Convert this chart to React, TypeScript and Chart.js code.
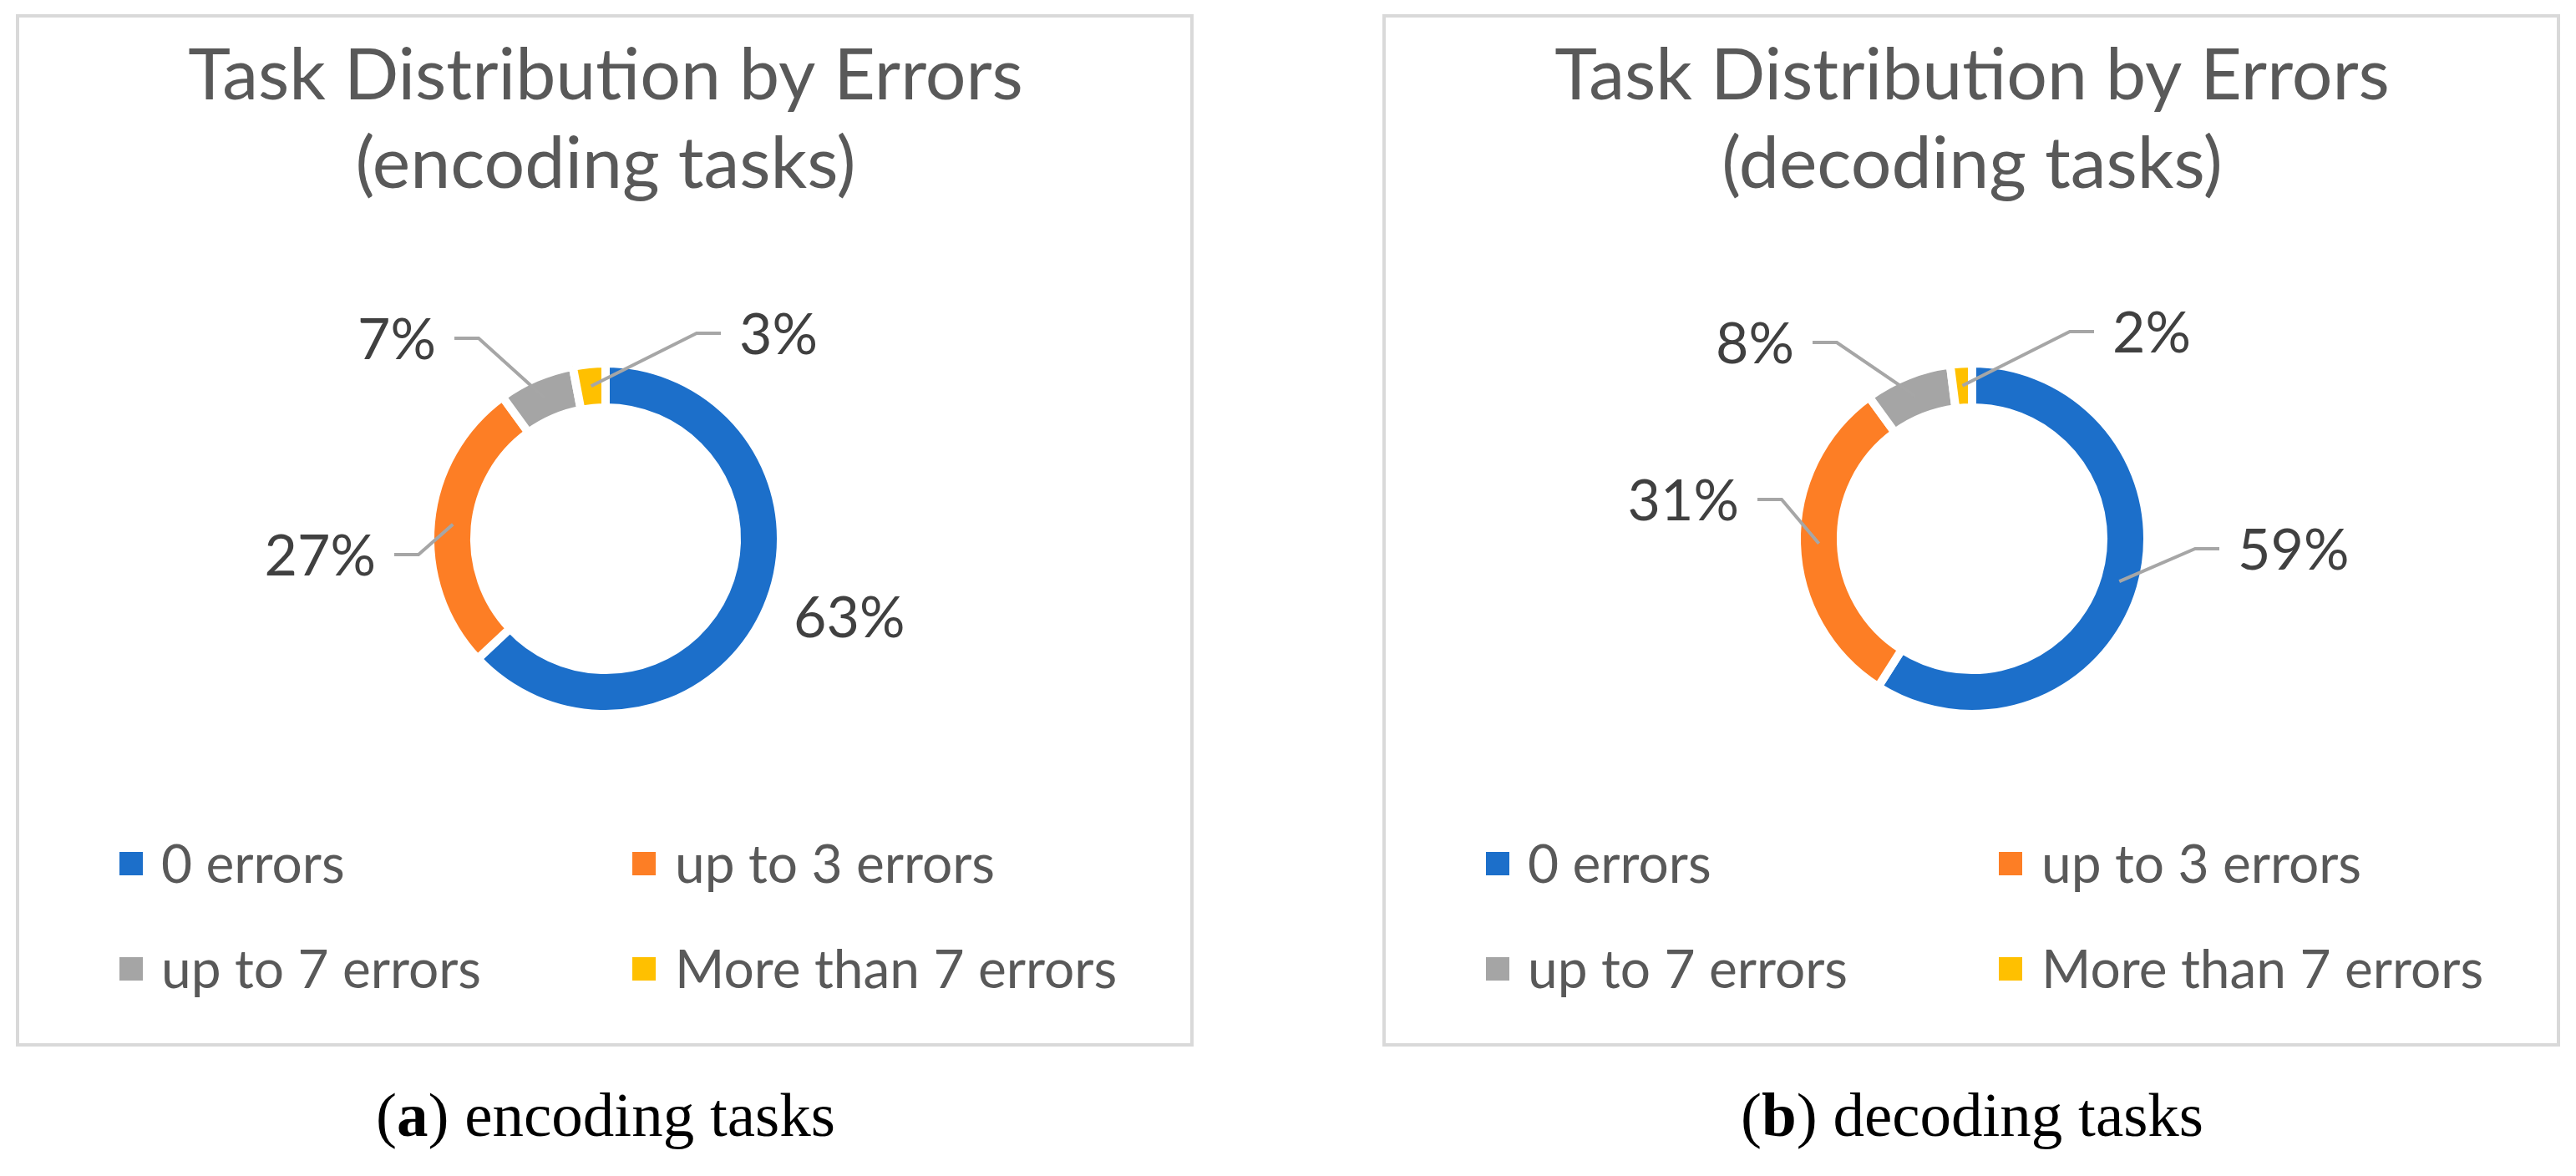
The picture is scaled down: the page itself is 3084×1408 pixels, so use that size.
import React, { useEffect, useRef } from 'react';
import { Chart, registerables } from 'chart.js';

Chart.register(...registerables);

// ---------- data ----------
const categories = ['0 errors', 'up to 3 errors', 'up to 7 errors', 'More than 7 errors'];
const encodingValues = [63, 27, 7, 3];
const decodingValues = [59, 31, 8, 2];
const encodingTitle = ['Task Distribution by Errors', '(encoding tasks)'];
const decodingTitle = ['Task Distribution by Errors', '(decoding tasks)'];
const captionLetters = ['a', 'b'];
const captionTexts = [' encoding tasks', ' decoding tasks'];

// ---------- style / layout ----------
const sliceColors = ['#1c6fca', '#fd7e25', '#a5a5a5', '#ffc000'];
const TITLE_COLOR = '#595959';
const LABEL_COLOR = '#404040';
const LEGEND_COLOR = '#595959';
const LEADER_COLOR = '#a6a6a6';
const UI_FONT = 'Lato, "Open Sans", "Noto Sans", sans-serif';

const CANVAS_W = 1402;
const CANVAS_H = 1228;
const CENTER_X = 702;
const CENTER_Y = 624;
const RADIUS = 210;

// label layout: text edge offset (dx) and text centre offset (dy) from the donut centre
type LabelPos = { side: 'left' | 'right'; dx: number; dy: number; leader: boolean };
const encodingLabelLayout: LabelPos[] = [
  { side: 'right', dx: 225, dy: 93, leader: false },
  { side: 'left', dx: -275, dy: 19, leader: true },
  { side: 'left', dx: -203, dy: -240, leader: true },
  { side: 'right', dx: 160, dy: -246, leader: true },
];
const decodingLabelLayout: LabelPos[] = [
  { side: 'right', dx: 318, dy: 12, leader: true },
  { side: 'left', dx: -279, dy: -47, leader: true },
  { side: 'left', dx: -213, dy: -235, leader: true },
  { side: 'right', dx: 168, dy: -248, leader: true },
];

const TITLE_BASELINES = [98, 204];
const LEGEND_SQUARE_X = [120, 734];
const LEGEND_TEXT_X = [170, 785];
const LEGEND_ROW_Y = [1013, 1139];

function makeDecor(title: string[], layout: LabelPos[]) {
  return {
    id: 'excelDecor',
    afterDatasetsDraw(chart: any) {
      const ctx: CanvasRenderingContext2D = chart.ctx;
      ctx.save();
      const meta = chart.getDatasetMeta(0);
      const first = meta.data[0];
      const cx = first.x;

      // title
      ctx.fillStyle = TITLE_COLOR;
      ctx.font = `400 86px ${UI_FONT}`;
      ctx.textAlign = 'center';
      ctx.textBaseline = 'alphabetic';
      title.forEach((line, i) => ctx.fillText(line, cx, TITLE_BASELINES[i]));

      // legend
      const labels: string[] = chart.data.labels;
      const colors: string[] = chart.data.datasets[0].backgroundColor;
      ctx.font = `400 64px ${UI_FONT}`;
      ctx.textAlign = 'left';
      ctx.textBaseline = 'middle';
      labels.forEach((lab, i) => {
        const col = i % 2;
        const row = Math.floor(i / 2);
        const y = LEGEND_ROW_Y[row];
        ctx.fillStyle = colors[i];
        ctx.fillRect(LEGEND_SQUARE_X[col], y - 14, 28, 28);
        ctx.fillStyle = LEGEND_COLOR;
        ctx.fillText(lab, LEGEND_TEXT_X[col], y + 2);
      });

      // data labels with leader lines
      const values: number[] = chart.data.datasets[0].data;
      ctx.font = `400 68px ${UI_FONT}`;
      meta.data.forEach((arc: any, i: number) => {
        const p = arc.getProps(['x', 'y', 'startAngle', 'endAngle', 'innerRadius', 'outerRadius'], true);
        const L = layout[i];
        const tx = p.x + L.dx;
        const ty = p.y + L.dy;
        ctx.fillStyle = LABEL_COLOR;
        ctx.textAlign = L.side === 'right' ? 'left' : 'right';
        ctx.textBaseline = 'middle';
        ctx.fillText(`${values[i]}%`, tx, ty + 3);
        if (L.leader) {
          const mid = (p.startAngle + p.endAngle) / 2;
          const r = (p.innerRadius + p.outerRadius) / 2;
          const ex = p.x + Math.cos(mid) * r;
          const ey = p.y + Math.sin(mid) * r;
          const dir = L.side === 'right' ? -1 : 1;
          const s0 = tx + dir * 22;
          const s1 = tx + dir * 51;
          ctx.strokeStyle = LEADER_COLOR;
          ctx.lineWidth = 4;
          ctx.lineJoin = 'miter';
          ctx.beginPath();
          ctx.moveTo(s0, ty);
          ctx.lineTo(s1, ty);
          ctx.lineTo(ex, ey);
          ctx.stroke();
        }
      });
      ctx.restore();
    },
  };
}

function DonutPanel(props: { values: number[]; title: string[]; layout: LabelPos[]; left: number; letter: string; caption: string }) {
  const ref = useRef<HTMLCanvasElement>(null);
  useEffect(() => {
    const padL = CENTER_X - 242;
    const padR = CANVAS_W - CENTER_X - 242;
    const padT = CENTER_Y - 234;
    const padB = CANVAS_H - CENTER_Y - 234;
    const chart = new Chart(ref.current as HTMLCanvasElement, {
      type: 'doughnut',
      data: {
        labels: categories,
        datasets: [
          {
            data: props.values,
            backgroundColor: sliceColors,
            borderColor: '#ffffff',
            borderWidth: 10,
            hoverOffset: 0,
          },
        ],
      },
      options: {
        responsive: false,
        animation: false,
        radius: RADIUS,
        cutout: '74.8%',
        layout: { padding: { left: padL, right: padR, top: padT, bottom: padB } },
        plugins: {
          legend: { display: false },
          tooltip: { enabled: false },
          title: { display: false },
        },
        events: [],
      } as any,
      plugins: [makeDecor(props.title, props.layout)],
    });
    return () => chart.destroy();
  }, []);

  return (
    <>
      <div
        style={{
          position: 'absolute',
          left: props.left,
          top: 17,
          width: 1410,
          height: 1236,
          border: '4px solid #d9d9d9',
          boxSizing: 'border-box',
          background: '#ffffff',
        }}
      >
        <canvas ref={ref} width={CANVAS_W} height={CANVAS_H} style={{ display: 'block', width: CANVAS_W, height: CANVAS_H }} />
      </div>
      <div
        style={{
          position: 'absolute',
          left: props.left + 4 + CENTER_X - 600,
          top: 1297,
          width: 1200,
          textAlign: 'center',
          fontFamily: '"Liberation Serif", "DejaVu Serif", serif',
          fontSize: 75,
          lineHeight: '76px',
          color: '#000000',
          whiteSpace: 'nowrap',
        }}
      >
        (<b>{props.letter}</b>){props.caption}
      </div>
    </>
  );
}

export default function App() {
  return (
    <div style={{ position: 'absolute', left: 0, top: 0, width: 3084, height: 1408, background: '#ffffff', overflow: 'hidden' }}>
      <DonutPanel values={encodingValues} title={encodingTitle} layout={encodingLabelLayout} left={19} letter={captionLetters[0]} caption={captionTexts[0]} />
      <DonutPanel values={decodingValues} title={decodingTitle} layout={decodingLabelLayout} left={1655} letter={captionLetters[1]} caption={captionTexts[1]} />
    </div>
  );
}
